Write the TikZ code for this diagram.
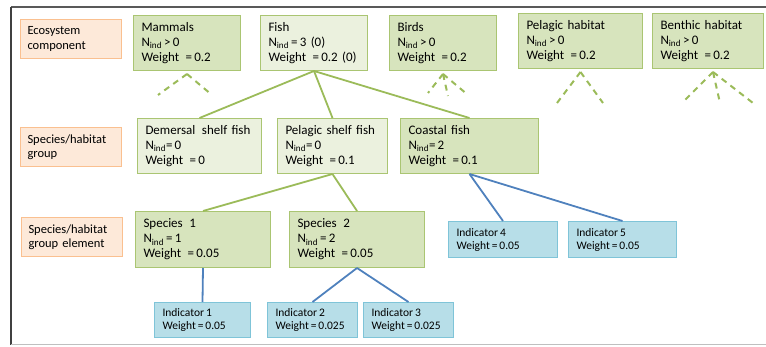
\documentclass[tikz,border=0pt]{standalone}
\usepackage{fontspec}
\setmainfont{Carlito}
\usepackage{tikz}
\usepackage{xcolor}
\usetikzlibrary{arrows.meta,positioning,calc}
\definecolor{EcoGreen}{HTML}{9BBB59}
\definecolor{EcoOlive}{HTML}{D7E4BD}
\definecolor{EcoPale}{HTML}{EBF1DE}
\definecolor{EcoOrange}{HTML}{FAC090}
\definecolor{EcoPeach}{HTML}{FDE9D9}
\definecolor{EcoCyan}{HTML}{7FC4D8}
\definecolor{EcoIce}{HTML}{B7DEE8}
\definecolor{EcoBlue}{HTML}{4F81BD}
\newcommand{\nind}{N\textsubscript{ind}}
\tikzset{lbl/.style={draw=EcoOrange,line width=1pt,fill=EcoPeach,anchor=north west,align=left,inner xsep=7pt,text width=87pt,minimum height=39pt,font=\fontsize{12.5}{14.5}\selectfont}, grp/.style={draw=EcoGreen!85,line width=1pt,fill=EcoOlive,anchor=north west,align=left,inner xsep=8pt,font=\fontsize{13}{15}\selectfont}, grplight/.style={grp,fill=EcoPale}, ind/.style={draw=EcoCyan,line width=1pt,fill=EcoIce,anchor=north west,align=left,inner xsep=8pt,font=\fontsize{11.5}{13}\selectfont}, link/.style={draw=EcoGreen,line width=1.8pt}, blink/.style={draw=EcoBlue,line width=1.8pt}, hint/.style={link,line width=2pt,dash pattern=on 6pt off 5pt}}

\begin{document}
\begin{tikzpicture}[x=1pt,y=-1pt]
\useasboundingbox (0,0) rectangle (766,347);
% frame
\draw[line width=1.5pt,black!65] (11,7)--(766,7);
\draw[line width=1.5pt,black!75] (11,7)--(11,345);
\draw[line width=1pt,black!25] (11,345)--(766,345);
% level labels
\node[lbl] (lvlcomp) at (20,19) {Ecosystem\\component};
\node[lbl] (lvlgroup) at (20,127) {Species/habitat\\group};
\node[lbl] (lvlelem) at (21,217) {Species/habitat\\group element};
% ecosystem components
\node[grp,text width=91pt,minimum height=55pt] (mammals) at (133,15) {Mammals\\\nind\,>\,0\\Weight\,\ =\,0.2};
\node[grplight,text width=91pt,minimum height=55pt] (fish) at (260,15) {Fish\\\nind\,=\,3 (0)\\Weight\,\ =\,0.2 (0)};
\node[grp,text width=91pt,minimum height=55pt] (birds) at (389,15) {Birds\\\nind\,>\,0\\Weight\,\ =\,0.2};
\node[grp,text width=108pt,minimum height=55pt] (pelagic) at (518,13) {Pelagic habitat\\\nind\,>\,0\\Weight\,\ =\,0.2};
\node[grp,text width=95pt,minimum height=55pt] (benthic) at (652,13) {Benthic habitat\\\nind\,>\,0\\Weight\,\ =\,0.2};
% species/habitat groups
\node[grplight,text width=108pt,minimum height=55pt] (demersal) at (137,118) {Demersal\,\ shelf fish\\\nind=\,0\\Weight\,\ =\,0};
\node[grplight,text width=94pt,minimum height=55pt] (pelshelf) at (277,118) {Pelagic shelf fish\\\nind=\,0\\Weight\,\ =\,0.1};
\node[grp,text width=122pt,minimum height=55pt] (coastal) at (400,118) {Coastal fish\\\nind=\,2\\Weight\,\ =\,0.1};
% group elements
\node[grp,text width=119pt,minimum height=56pt] (spec1) at (135,211) {Species\,\ 1\\\nind\,=\,1\\Weight\,\ =\,0.05};
\node[grp,text width=119pt,minimum height=56pt] (spec2) at (289,211) {Species\,\ 2\\\nind\,=\,2\\Weight\,\ =\,0.05};
% indicators
\node[ind,text width=80pt,minimum height=35pt] (ind1) at (154,302) {Indicator\,1\\Weight\,=\,0.05};
\node[ind,text width=74pt,minimum height=35pt] (ind2) at (267,302) {Indicator\,2\\Weight\,=\,0.025};
\node[ind,text width=74pt,minimum height=35pt] (ind3) at (363,302) {Indicator\,3\\Weight\,=\,0.025};
\node[ind,text width=93pt,minimum height=36pt] (ind4) at (448,221) {Indicator\,4\\Weight\,=\,0.05};
\node[ind,text width=92pt,minimum height=36pt] (ind5) at (568,221) {Indicator\,5\\Weight\,=\,0.05};
% loose ends of the hidden branches
\coordinate (mamL) at (158,95); \coordinate (mamR) at (212,95);
\coordinate (birL) at (428,93); \coordinate (birM) at (448,96); \coordinate (birR) at (468,95);
\coordinate (pelL) at (557,103); \coordinate (pelR) at (603,103);
\coordinate (benL) at (685,100); \coordinate (benM) at (720,103); \coordinate (benR) at (753,103);
\foreach \src/\dst in {fish/demersal,fish/pelshelf,fish/coastal,pelshelf/spec1,pelshelf/spec2}{\draw[link] (\src.south)--(\dst.north);}
\foreach \src/\dst in {coastal/ind4,coastal/ind5,spec1/ind1,spec2/ind2,spec2/ind3}{\draw[blink] (\src.south)--(\dst.north);}
\foreach \src/\dst/\dx in {mammals/mamL/0,mammals/mamR/0,birds/birL/0,birds/birM/0,birds/birR/0,pelagic/pelL/0,pelagic/pelR/0,benthic/benL/5,benthic/benM/5,benthic/benR/5}{\draw[hint] ($(\src.south)+(\dx,3)$)--(\dst);}
\end{tikzpicture}
\end{document}
